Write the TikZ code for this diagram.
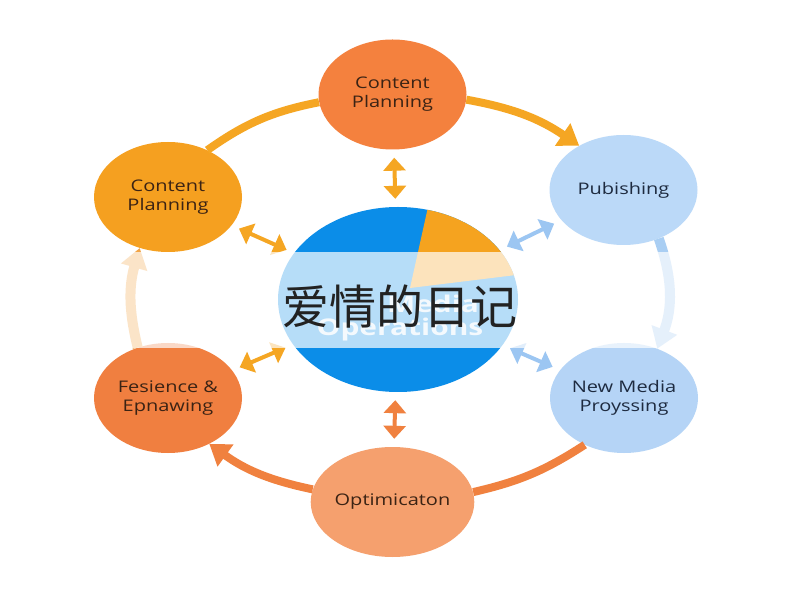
\documentclass[tikz,border=0pt]{standalone}
\usepackage{fontspec}
\setmainfont{Open Sans}
\newfontfamily\nodefont{Open Sans}[FakeStretch=1.25]
\newfontfamily\ghostfont{Open Sans}[FakeStretch=1.3]
\newfontfamily\cjk{Noto Sans CJK SC}
\usetikzlibrary{shapes.geometric,arrows.meta}
\definecolor{cTop}{HTML}{F4813E}
\definecolor{cLT}{HTML}{F5A020}
\definecolor{cPub}{HTML}{BBD9F8}
\definecolor{cFes}{HTML}{F07F40}
\definecolor{cNM}{HTML}{B5D4F6}
\definecolor{cOpt}{HTML}{F5A06E}
\definecolor{pieblue}{HTML}{0B8DE8}
\definecolor{pieorange}{HTML}{F5A31F}
\definecolor{cAmb}{HTML}{F5A623}
\definecolor{cAmbArc}{HTML}{F2A547}
\definecolor{cOrArc}{HTML}{F0813F}
\definecolor{cBlueArc}{HTML}{A9CEF3}
\definecolor{cBlueDbl}{HTML}{9CC6F2}
\definecolor{txt}{HTML}{3B2314}
\definecolor{txtb}{HTML}{1E2B40}
\definecolor{titlec}{HTML}{222222}
\begin{document}
\begin{tikzpicture}[x=1pt,y=1pt,
  bub/.style={ellipse, minimum width=148pt, minimum height=110pt, inner sep=0pt,
    align=center, font=\nodefont\fontsize{16}{19}\selectfont, text=txt},
  ring/.style={line width=8pt, line cap=butt},
  bighead/.style={-{Triangle[length=20pt,width=26pt]}},
  dbl/.style={line width=4pt, {Triangle[length=13pt,width=22pt]}-{Triangle[length=13pt,width=22pt]},
    shorten <=8pt, shorten >=8pt},
  ghost/.style={text=white, opacity=0.85, font=\ghostfont\bfseries\fontsize{23}{23}\selectfont}]
\useasboundingbox (0,0) rectangle (800,600);
\fill[white] (0,0) rectangle (800,600);

% outer nodes
\node[bub, fill=cTop] (top) at (392.5,505.5) {Content\\Planning};
\node[bub, fill=cLT] (lt) at (168,403) {Content\\Planning};
\node[bub, fill=cPub, text=txtb] (pub) at (623.5,410) {Pubishing};
\node[bub, fill=cFes] (fes) at (168,202) {Fesience \&\\Epnawing};
\node[bub, fill=cNM, text=txtb] (nm) at (624,202) {New Media\\Proyssing};
\node[bub, fill=cOpt] (opt) at (392.5,98) {Optimicaton};

% central pie
\node[ellipse, minimum width=240pt, minimum height=185pt, inner sep=0pt, fill=pieblue] (pie) at (398,300.5) {};
\begin{scope}
  \clip (pie.center) ellipse [x radius=120pt, y radius=92.5pt];
  \fill[pieorange] (410,312) -- (434,420) -- (560,420) -- (560,330.4) -- cycle;
\end{scope}

% ring connectors
\draw[ring, cAmb] (lt.50) to[bend left=12] (top.186);
\draw[ring, cAmb, bighead] (top.-4) to[bend left=12] (pub.135);
\draw[ring, line width=10pt, cBlueArc, bighead] (pub.-54) to[bend left=20] (nm.56);
\draw[ring, cOrArc] (nm.230) to[bend left=10] (opt.7);
\draw[ring, cOrArc, bighead] (opt.171) to[bend left=12] (fes.-48);
\draw[ring, line width=10pt, cAmbArc, bighead] (fes.121) to[bend left=15] (lt.241);

% double arrows to centre
\draw[dbl, cAmb] (top) -- (pie);
\draw[dbl, cAmb] (lt) -- (pie);
\draw[dbl, cBlueDbl] (pub) -- (pie);
\draw[dbl, cAmb] (fes) -- (pie);
\draw[dbl, cBlueDbl] (nm) -- (pie);
\draw[dbl, cOrArc] (opt) -- (pie);

% translucent band
\fill[white, opacity=0.7] (0,252) rectangle (800,348);

% ghost text
\node[ghost] (g1) at (433,296) {Media};
\node[ghost] (g2) at (400,270) {Operations};

% title
\node[font=\cjk\fontsize{47}{47}\selectfont, text=titlec, inner sep=0pt] (title) at (400,293) {爱情的日记};
\end{tikzpicture}
\end{document}
